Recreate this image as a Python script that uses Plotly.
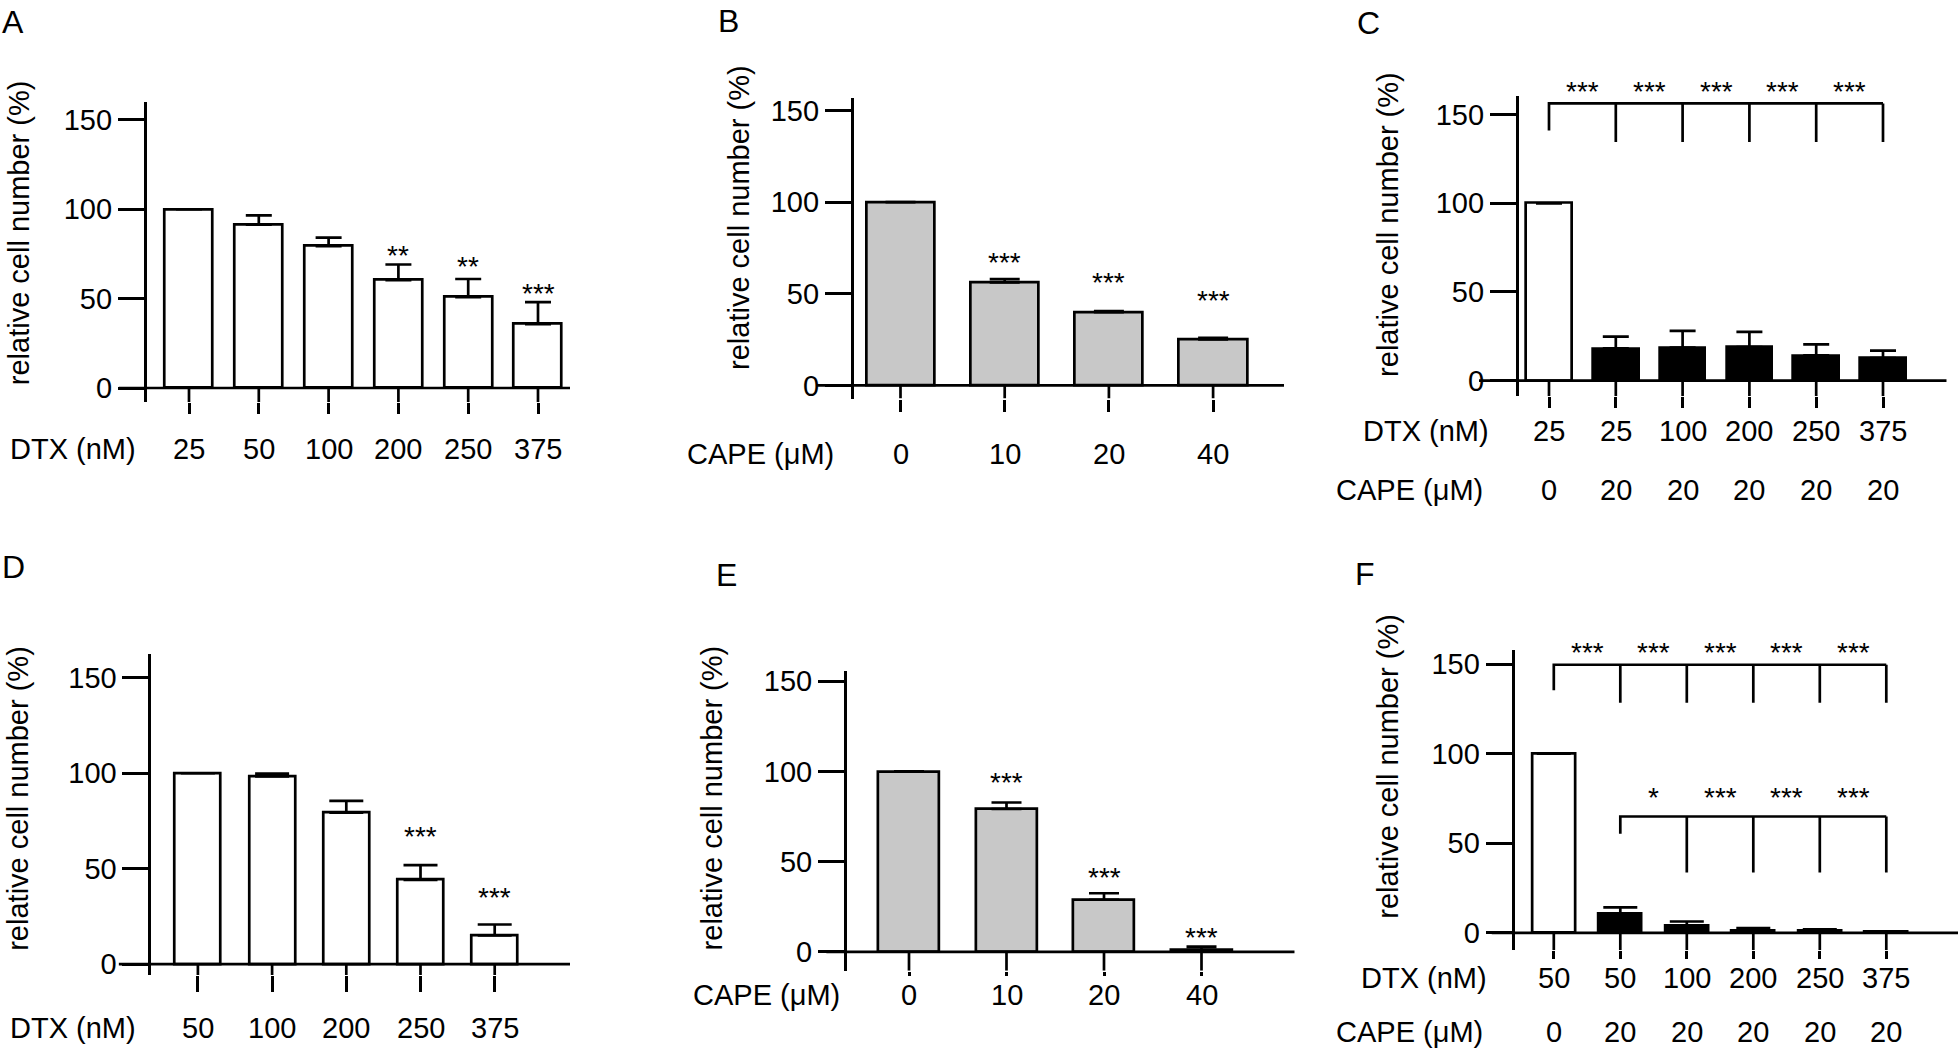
import plotly.graph_objects as go

W, H = 1960, 1052
FONT = "Liberation Sans, Arial, Helvetica, sans-serif"

# ------------------------- data -------------------------
A_dtx = ['25', '50', '100', '200', '250', '375']
A_val = [100, 91.4, 79.4, 60.4, 50.8, 35.7]
A_err = [0, 5.2, 4.7, 8.7, 10.2, 12.3]
A_sig = ['', '', '', '**', '**', '***']
A_sig_y = [None, None, None, 77.6, 71.5, 56.4]

B_cape = ['0', '10', '20', '40']
B_val = [100, 56.2, 40.0, 25.1]
B_err = [0, 1.8, 0.6, 0.9]
B_sig = ['', '***', '***', '***']
B_sig_y = [None, 70.3, 59.5, 49.9]

C_dtx = ['25', '25', '100', '200', '250', '375']
C_cape = ['0', '20', '20', '20', '20', '20']
C_val = [100, 18.2, 18.6, 19.0, 14.3, 12.7]
C_err = [0, 6.6, 9.5, 8.5, 6.2, 4.2]
C_sig = ['***', '***', '***', '***', '***']          # each vs. first bar
C_bracket = [156.3, 141.0, 134.6, 166.6]             # bar line, first leg end, other legs end, stars

D_dtx = ['50', '100', '200', '250', '375']
D_val = [100, 98.4, 79.4, 44.1, 15.05]
D_err = [0, 1.4, 6.1, 7.8, 5.7]
D_sig = ['', '', '', '***', '***']
D_sig_y = [None, None, None, 70.1, 38.0]

E_cape = ['0', '10', '20', '40']
E_val = [100, 79.2, 28.9, 1.1]
E_err = [0, 3.6, 3.6, 1.8]
E_sig = ['', '***', '***', '***']
E_sig_y = [None, 97.5, 44.8, 11.5]

F_dtx = ['50', '50', '100', '200', '250', '375']
F_cape = ['0', '20', '20', '20', '20', '20']
F_val = [100, 10.5, 3.7, 0.9, 1.3, 0.5]
F_err = [0, 3.7, 2.6, 1.7, 0.6, 0.3]
F_sig_top = ['***', '***', '***', '***', '***']      # each vs. first bar
F_bracket_top = [149.6, 135.4, 128.4, 160.0]
F_sig_low = ['*', '***', '***', '***']               # each vs. second bar
F_bracket_low = [64.9, 55.3, 33.7, 78.8]

Y_TICKS = [0, 50, 100, 150]

# ------------------------- layout specs (pixels) -------------------------
LW = 2.7
FS = 29
STAR_FS = 28
SPEC = {
    'A': dict(ax=144.7, bl=118.6, c0=189.0, s=69.8, end=570, y0=386.7, unit=1.8047, top=97.7, bot=401.0, cat=412.3, bw=0.685, cap=13),
    'B': dict(ax=851.7, bl=816.7, c0=900.5, s=104.2, end=1284, y0=384.0, unit=1.849, top=94.3, bot=397.3, cat=409.3, bw=0.656, cap=15),
    'C': dict(ax=1516.7, bl=1479.0, c0=1549.0, s=66.8, end=1946.7, y0=379.3, unit=1.791, top=91.7, bot=395.0, cat=406.0, bw=0.68, cap=13),
    'D': dict(ax=149.3, bl=118.6, c0=197.9, s=74.2, end=570, y0=968.3, unit=1.9267, top=655.7, bot=979.3, cat=995.0, bw=0.62, cap=17),
    'E': dict(ax=844.9, bl=826.2, c0=909.0, s=97.5, end=1294.7, y0=956.0, unit=1.822, top=672.3, bot=975.0, cat=979.3, bw=0.625, cap=15),
    'F': dict(ax=1512.5, bl=1491.5, c0=1553.8, s=66.5, end=1958, y0=936.7, unit=1.809, top=651.0, bot=954.3, cat=961.7, bw=0.65, cap=17),
}

fig = go.Figure()
annotations = []
shapes = []


def px_x(p):
    return p / W


def px_y(p):
    return 1 - p / H


def panel(idx, key, values, errs, colors, rows, row_label_pos, ylab_pos, letter_pos):
    sp = dict(SPEC[key])
    suf = '' if idx == 1 else str(idx)
    xr, yr = 'x' + suf, 'y' + suf
    n = len(values)
    xs = list(range(n))
    x_lo = (sp['bl'] - sp['c0']) / sp['s']
    x_hi = (sp['end'] - sp['c0']) / sp['s']
    y_hi = (sp['y0'] - sp['top']) / sp['unit']
    y_lo = (sp['y0'] - sp['bot']) / sp['unit']
    sp['ylo'], sp['yhi'] = y_lo, y_hi

    fig.add_trace(go.Bar(
        x=xs, y=values, width=sp['bw'],
        marker=dict(color=colors, line=dict(color='black', width=LW)),
        error_y=dict(type='data', array=errs, arrayminus=[0] * n, symmetric=False,
                     color='black', thickness=LW, width=sp['cap']),
        xaxis=xr, yaxis=yr, showlegend=False, hoverinfo='skip'))

    fig.layout['xaxis' + suf] = dict(
        domain=[px_x(sp['bl']), px_x(sp['end'])], range=[x_lo, x_hi], anchor=yr,
        showline=False, showgrid=False, zeroline=False, showticklabels=False,
        tickmode='array', tickvals=xs, ticks='outside', ticklen=sp['cat'] - sp['bot'],
        tickwidth=LW, tickcolor='black', fixedrange=True)
    fig.layout['yaxis' + suf] = dict(
        domain=[px_y(sp['bot']), px_y(sp['top'])], range=[y_lo, y_hi], anchor='free',
        position=px_x(sp['ax']), showline=True, linewidth=LW, linecolor='black',
        showgrid=False, zeroline=False, tickmode='array', tickvals=Y_TICKS,
        ticks='outside', ticklen=26, tickwidth=LW, tickcolor='black',
        tickfont=dict(size=FS, color='black', family=FONT), fixedrange=True)

    # baseline at y = 0 and category ticks down to the axis bottom
    shapes.append(dict(type='line', xref=xr, yref=yr, x0=x_lo, x1=x_hi, y0=0, y1=0,
                       line=dict(color='black', width=LW)))
    for k in xs:
        shapes.append(dict(type='line', xref=xr, yref=yr, x0=k, x1=k, y0=0, y1=y_lo,
                           line=dict(color='black', width=LW)))

    # row labels and category labels
    for (title, labels), (lx, ly) in zip(rows, row_label_pos):
        annotations.append(dict(xref='paper', yref='paper', x=px_x(lx), y=px_y(ly),
                                text=title, showarrow=False, xanchor='left', yanchor='middle',
                                font=dict(size=FS, color='black', family=FONT)))
        for k, lab in enumerate(labels):
            annotations.append(dict(xref=xr, yref='paper', x=k, y=px_y(ly), text=lab,
                                    showarrow=False, xanchor='center', yanchor='middle',
                                    font=dict(size=FS, color='black', family=FONT)))
    # y title
    annotations.append(dict(xref='paper', yref='paper', x=px_x(ylab_pos[0]), y=px_y(ylab_pos[1]),
                            text='relative cell number (%)', textangle=-90, showarrow=False,
                            xanchor='center', yanchor='middle',
                            font=dict(size=FS, color='black', family=FONT)))
    # panel letter
    annotations.append(dict(xref='paper', yref='paper', x=px_x(letter_pos[0]), y=px_y(letter_pos[1]),
                            text=key, showarrow=False, xanchor='left', yanchor='middle',
                            font=dict(size=32, color='black', family=FONT)))
    return xr, yr, sp


def stars(xr, yr, sp, xs, ys, texts):
    # asterisks sit high in the em box: shift so the glyphs centre on the given value
    shift = 0.22 * STAR_FS / sp['unit']
    lo, hi = sp['ylo'], sp['yhi']
    for x, v, t in zip(xs, ys, texts):
        if v is None or not t:
            continue
        annotations.append(dict(xref=xr, yref=yr + ' domain', x=x, y=(v - shift - lo) / (hi - lo),
                                text=t, showarrow=False, xanchor='center', yanchor='middle',
                                font=dict(size=STAR_FS, color='black', family=FONT)))


def bracket(xr, yr, start, stop, levels):
    y_bar, y_first, y_leg, y_star = levels
    bx, by = [start, start, stop, None], [y_first, y_bar, y_bar, None]
    for k in range(start + 1, stop + 1):
        bx += [k, k, None]
        by += [y_bar, y_leg, None]
    fig.add_trace(go.Scatter(x=bx, y=by, mode='lines', line=dict(color='black', width=LW),
                             xaxis=xr, yaxis=yr, showlegend=False, hoverinfo='skip'))
    return [k + 0.5 for k in range(start, stop)], [y_star] * (stop - start)


# ---- A ----
xr, yr, sp = panel(1, 'A', A_val, A_err, ['white'] * 6, [('DTX (nM)', A_dtx)],
                   [(7.7, 448)], (18.4, 230), (0, 17.5))
stars(xr, yr, sp, list(range(6)), A_sig_y, A_sig)
# ---- B ----
xr, yr, sp = panel(2, 'B', B_val, B_err, ['#c8c8c8'] * 4, [('CAPE (μM)', B_cape)],
                   [(685, 453)], (739, 215), (716, 16))
stars(xr, yr, sp, list(range(4)), B_sig_y, B_sig)
# ---- C ----
xr, yr, sp = panel(3, 'C', C_val, C_err, ['white'] + ['black'] * 5,
                   [('DTX (nM)', C_dtx), ('CAPE (μM)', C_cape)],
                   [(1361, 430), (1334, 490)], (1388, 222), (1355, 18))
sx, sy = bracket(xr, yr, 0, 5, C_bracket)
stars(xr, yr, sp, sx, sy, C_sig)
# ---- D ----
xr, yr, sp = panel(4, 'D', D_val, D_err, ['white'] * 5, [('DTX (nM)', D_dtx)],
                   [(7.7, 1033)], (18.4, 801), (0, 567.5))
stars(xr, yr, sp, list(range(5)), D_sig_y, D_sig)
# ---- E ----
xr, yr, sp = panel(5, 'E', E_val, E_err, ['#c8c8c8'] * 4, [('CAPE (μM)', E_cape)],
                   [(691, 1000)], (712, 801), (714, 575))
stars(xr, yr, sp, list(range(4)), E_sig_y, E_sig)
# ---- F ----
xr, yr, sp = panel(6, 'F', F_val, F_err, ['white'] + ['black'] * 5,
                   [('DTX (nM)', F_dtx), ('CAPE (μM)', F_cape)],
                   [(1359, 982), (1334, 1037)], (1388, 769), (1353, 574.5))
sx, sy = bracket(xr, yr, 0, 5, F_bracket_top)
stars(xr, yr, sp, sx, sy, F_sig_top)
sx, sy = bracket(xr, yr, 1, 5, F_bracket_low)
stars(xr, yr, sp, sx, sy, F_sig_low)

fig.update_layout(
    width=W, height=H, margin=dict(l=0, r=0, t=0, b=0),
    paper_bgcolor='white', plot_bgcolor='rgba(0,0,0,0)',
    font=dict(family=FONT, color='black', size=FS),
    annotations=annotations, shapes=shapes, bargap=0, showlegend=False)

fig.write_html("out.html", config={'displayModeBar': False},
               post_script="document.body.style.margin='0';")
